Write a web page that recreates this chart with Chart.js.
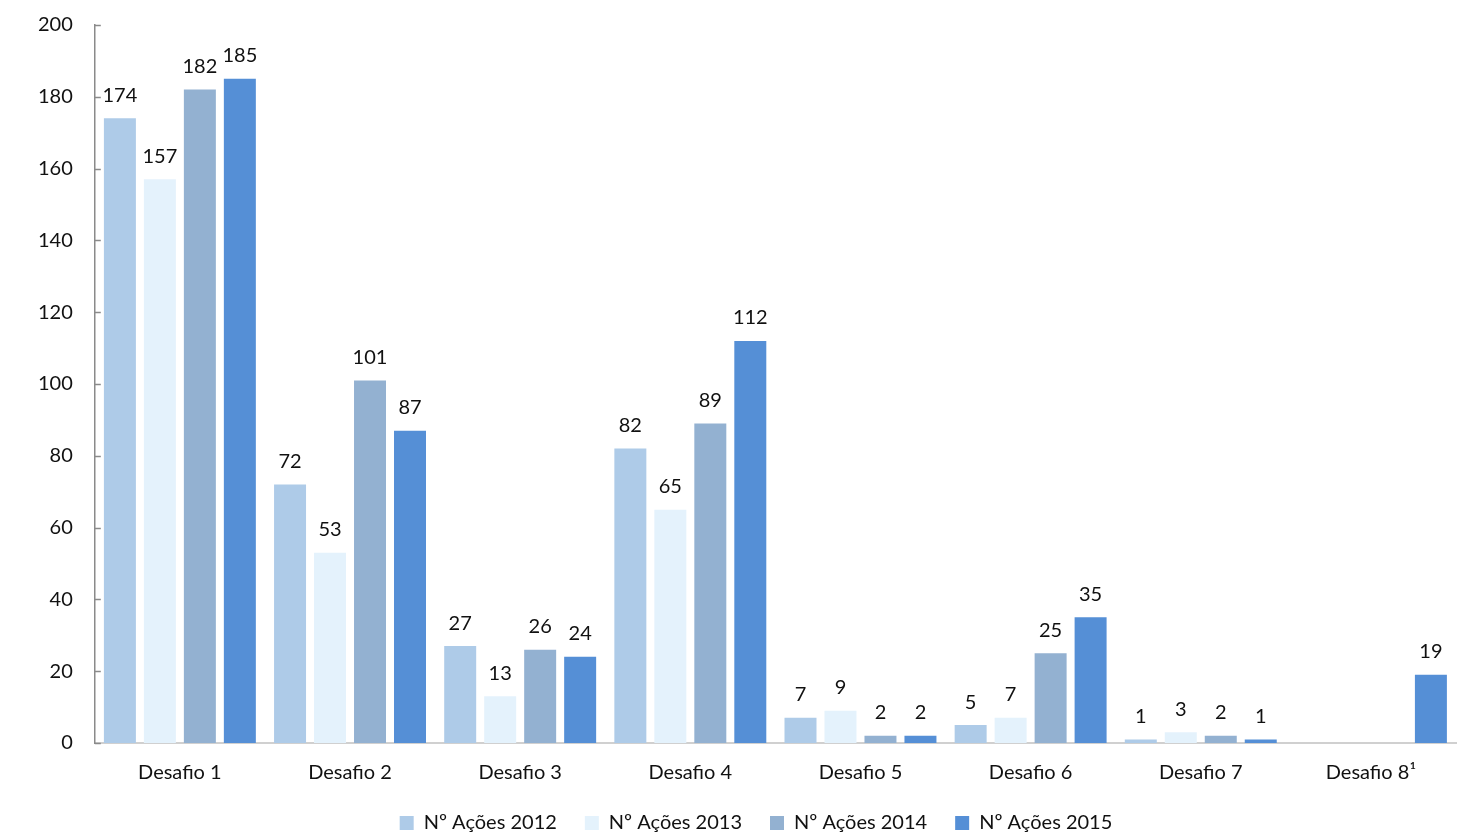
<!DOCTYPE html>
<html>
<head>
<meta charset="utf-8">
<script src="https://cdn.jsdelivr.net/npm/chart.js@4"></script>
<style>
  html, body { margin: 0; padding: 0; background: #fff; }
  #wrap { width: 1469px; height: 835px; }
</style>
</head>
<body>
<div id="wrap"><canvas id="acoesChart"></canvas></div>
<script>
const categorias = ['Desafio 1', 'Desafio 2', 'Desafio 3', 'Desafio 4', 'Desafio 5', 'Desafio 6', 'Desafio 7', 'Desafio 8\u00b9'];
const acoes2012 = [174, 72, 27, 82, 7, 5, 1, null];
const acoes2013 = [157, 53, 13, 65, 9, 7, 3, null];
const acoes2014 = [182, 101, 26, 89, 2, 25, 2, null];
const acoes2015 = [185, 87, 24, 112, 2, 35, 1, 19];
const yTicks = [0, 20, 40, 60, 80, 100, 120, 140, 160, 180, 200];

const FONT = 'Lato';

// value labels above each bar
const barLabels = {
    id: 'barLabels',
    afterDatasetsDraw(chart) {
        const ctx = chart.ctx;
        ctx.save();
        ctx.font = '20px ' + FONT;
        ctx.fillStyle = '#111';
        ctx.textAlign = 'center';
        ctx.textBaseline = 'bottom';
        chart.data.datasets.forEach((ds, i) => {
            chart.getDatasetMeta(i).data.forEach((bar, j) => {
                const v = ds.data[j];
                if (v === null || v === undefined) return;
                ctx.fillText(String(v), bar.x, bar.y - 13);
            });
        });
        ctx.restore();
    }
};

// small inward tick marks on the y axis
const innerTicks = {
    id: 'innerTicks',
    afterDraw(chart) {
        const y = chart.scales.y;
        const ctx = chart.ctx;
        ctx.save();
        ctx.strokeStyle = '#8a8a8a';
        ctx.lineWidth = 1.5;
        yTicks.forEach(t => {
            const py = Math.round(y.getPixelForValue(t)) + 0.5;
            ctx.beginPath();
            ctx.moveTo(y.right, py);
            ctx.lineTo(y.right + 6, py);
            ctx.stroke();
        });
        ctx.restore();
    }
};

// nudge the legend row a bit to the right, under the plot
const legendShift = {
    id: 'legendShift',
    afterLayout(chart) {
        chart.legend.left += 20;
        chart.legend.right += 20;
    }
};

const ctx = document.getElementById('acoesChart').getContext('2d');
new Chart(ctx, {
    type: 'bar',
    data: {
        labels: categorias,
        datasets: [
            { label: 'Nº Ações 2012', data: acoes2012, backgroundColor: '#aecbe8' },
            { label: 'Nº Ações 2013', data: acoes2013, backgroundColor: '#e4f2fc' },
            { label: 'Nº Ações 2014', data: acoes2014, backgroundColor: '#93b1d1' },
            { label: 'Nº Ações 2015', data: acoes2015, backgroundColor: '#558fd6' }
        ]
    },
    options: {
        responsive: true,
        maintainAspectRatio: false,
        animation: false,
        layout: { padding: { top: 25, left: 16, right: 13, bottom: -8 } },
        datasets: {
            bar: { categoryPercentage: 0.94, barPercentage: 0.8 }
        },
        scales: {
            x: {
                grid: { display: false, drawTicks: false },
                border: { color: '#d0d0d0', width: 2 },
                ticks: { color: '#111', font: { family: FONT, size: 20 }, padding: 18 },
                afterFit(scale) {
                    // let the labels sit closer to the legend
                    scale.height -= 18;
                }
            },
            y: {
                min: 0,
                max: 200,
                afterBuildTicks(scale) {
                    scale.ticks = yTicks.map(v => ({ value: v }));
                },
                afterFit(scale) {
                    scale.paddingTop = 12;
                    scale.paddingBottom = 12;
                },
                grid: { display: false, drawTicks: false },
                border: { color: '#8a8a8a', width: 1.5 },
                ticks: { color: '#111', font: { family: FONT, size: 20 }, padding: 22 }
            }
        },
        plugins: {
            legend: {
                position: 'bottom',
                labels: {
                    color: '#111',
                    font: { family: FONT, size: 20 },
                    boxWidth: 14,
                    boxHeight: 14,
                    padding: 28
                }
            },
            tooltip: { enabled: false }
        }
    },
    plugins: [barLabels, innerTicks, legendShift]
});
</script>
</body>
</html>
